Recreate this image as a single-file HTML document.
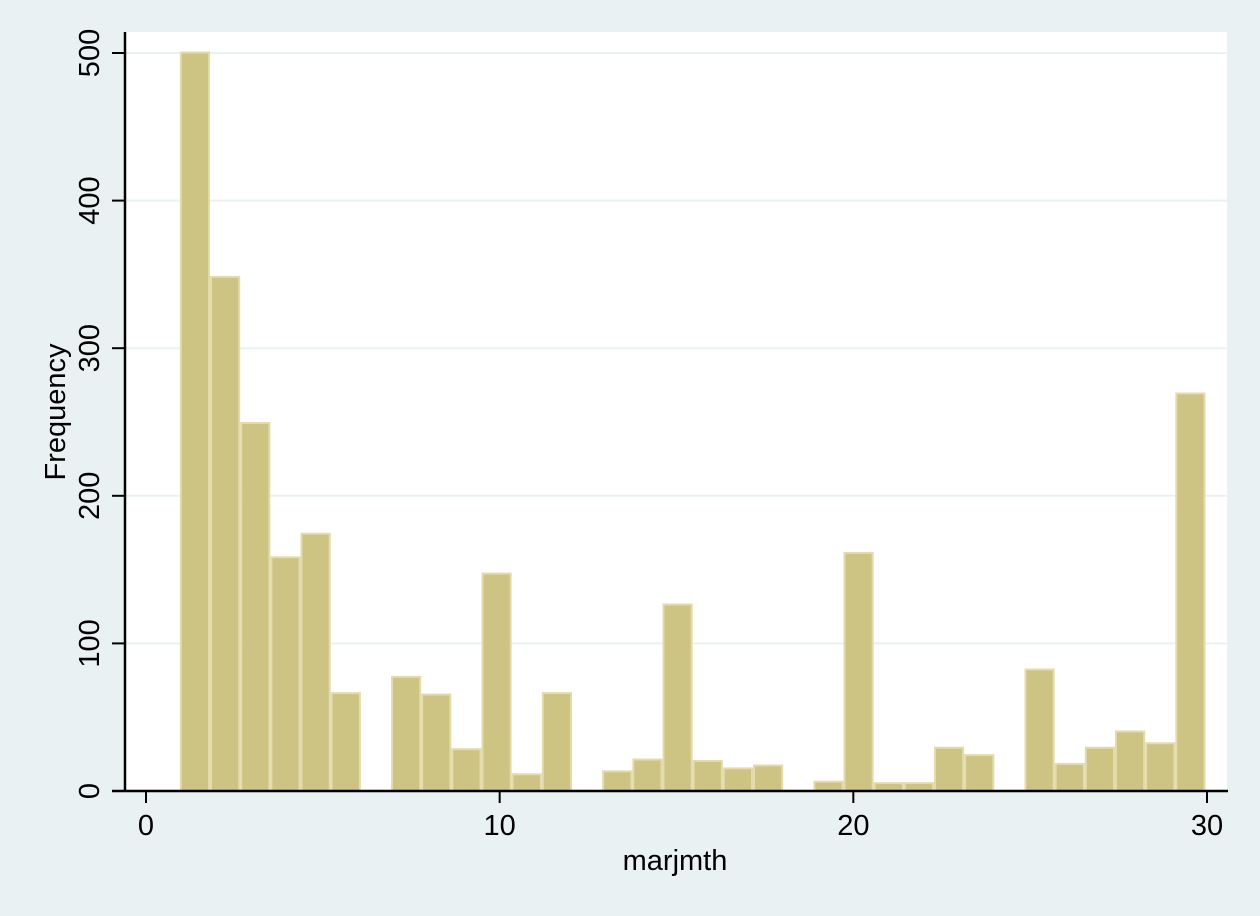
<!DOCTYPE html>
<html><head><meta charset="utf-8"><style>
html,body{margin:0;padding:0;background:#eaf1f3;}
svg{display:block;font-family:"Liberation Sans",sans-serif;}
</style></head><body>
<svg id="chart" width="1260" height="916">
<rect x="0" y="0" width="1260" height="916" fill="#eaf1f3"/>
<rect x="125" y="32" width="1102" height="759" fill="#ffffff"/>
<g id="grid"></g><g id="bars"></g><g id="axes"></g>
<text x="675" y="870" font-size="29" text-anchor="middle">marjmth</text>
<text transform="translate(65,412) rotate(-90)" font-size="29" text-anchor="middle">Frequency</text>
</svg>
<script>
const binStart = 1;
const binEnd = 30;
const counts = [501,349,250,159,175,67,0,78,66,29,148,12,67,0,14,22,127,21,16,18,0,7,162,6,6,30,25,0,83,19,30,41,33,270];
const xTicks = [0,10,20,30];
const yTicks = [0,100,200,300,400,500];
const NS = "http://www.w3.org/2000/svg";
const xs = v => 146 + (v - 0) * (1207 - 146) / 30;
const ys = v => 791 - v * (791 - 53) / 500;
function mk(tag, attrs, parent){const e=document.createElementNS(NS,tag);for(const k in attrs)e.setAttribute(k,attrs[k]);parent.appendChild(e);return e;}
const grid=document.getElementById('grid'), bars=document.getElementById('bars'), axes=document.getElementById('axes');
yTicks.forEach(t=>{
  if(t>0){const g=mk('line',{x1:125,x2:1227,y1:ys(t),y2:ys(t),stroke:'#eaf1f3','stroke-width':2},grid);
  
  }
  const tk=mk('line',{x1:112,x2:125,y1:ys(t),y2:ys(t),stroke:'#000','stroke-width':2},axes);
  
  
  const lb=mk('text',{transform:`translate(99,${ys(t)}) rotate(-90)`,'font-size':29,'text-anchor':'middle'},axes);
  lb.textContent=t;
  
  
});
const w=(binEnd-binStart)/counts.length;
counts.forEach((c,i)=>{
  if(c<=0)return;
  const x0=xs(binStart+i*w)-1.5, x1=xs(binStart+(i+1)*w)-1.5;
  const r=mk('rect',{x:x0+1,y:ys(c)+1,width:x1-x0-2,height:ys(0)-ys(c)-1,fill:'#cdc383',stroke:'#e3dcaa','stroke-width':2},bars);
  
  
});
const ya=mk('line',{x1:125,x2:125,y1:32,y2:792,stroke:'#000','stroke-width':2.5},axes);


const xa=mk('line',{x1:112,x2:1228,y1:791,y2:791,stroke:'#000','stroke-width':2.5},axes);


xTicks.forEach(t=>{
  const tk=mk('line',{x1:xs(t),x2:xs(t),y1:791,y2:803,stroke:'#000','stroke-width':2},axes);
  
  
  const lb=mk('text',{x:xs(t),y:835,'font-size':29,'text-anchor':'middle'},axes);
  lb.textContent=t;
  
  
});
</script>
</body></html>
